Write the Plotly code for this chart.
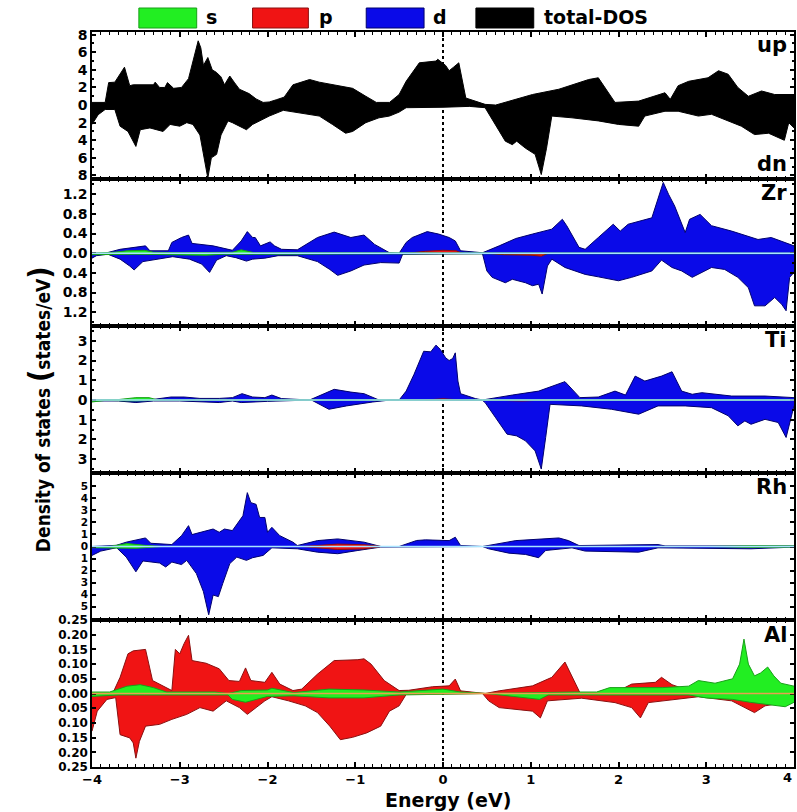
import plotly.graph_objects as go
from plotly.subplots import make_subplots

# ---------------- data: (energy eV, DOS) pairs; spin-down stored as negative ----------------
tot_up = [(-4.0, 0.3), (-3.85, 0.3), (-3.81, 2.55), (-3.74, 2.6), (-3.63, 4.3), (-3.57, 2.2),
          (-3.53, 2.3), (-3.30, 2.3), (-3.28, 2.6), (-3.23, 2.0), (-3.17, 2.0), (-3.14, 2.55),
          (-3.07, 1.9), (-2.98, 2.0), (-2.90, 3.0), (-2.79, 7.3), (-2.76, 6.5), (-2.73, 4.5),
          (-2.68, 5.4), (-2.63, 4.0), (-2.58, 3.7), (-2.53, 3.2), (-2.49, 2.3), (-2.43, 3.3),
          (-2.38, 2.6), (-2.32, 1.8), (-2.21, 1.3), (-2.13, 0.7), (-2.05, 0.3), (-1.98, 0.35),
          (-1.90, 0.6), (-1.81, 0.9), (-1.71, 2.3), (-1.52, 2.9), (-1.41, 2.6), (-1.18, 2.2),
          (-1.03, 1.9), (-0.88, 1.0), (-0.76, 0.3), (-0.61, 0.3), (-0.50, 1.2), (-0.42, 2.7),
          (-0.27, 4.8), (-0.08, 5.0), (-0.06, 5.2), (0.03, 4.5), (0.07, 3.9), (0.12, 4.3),
          (0.18, 4.8), (0.26, 0.8), (0.37, 0.45), (0.48, 0.08), (0.60, 0.0), (0.75, 0.45),
          (1.02, 1.2), (1.32, 1.8), (1.66, 2.9), (1.77, 3.1), (1.96, 0.3), (2.23, 0.45),
          (2.42, 1.0), (2.53, 1.4), (2.59, 0.65), (2.68, 2.2), (2.80, 2.7), (3.02, 3.1),
          (3.14, 3.9), (3.25, 3.5), (3.36, 2.0), (3.48, 1.0), (3.63, 1.6), (3.78, 1.2), (4.0, 1.2)]
tot_dn = [(-4.0, -2.2), (-3.93, -1.1), (-3.85, -0.5), (-3.74, -0.5), (-3.68, -2.4), (-3.59, -3.0),
          (-3.50, -4.7), (-3.45, -2.8), (-3.34, -2.6), (-3.25, -2.8), (-3.19, -3.0), (-3.11, -2.2),
          (-3.0, -2.4), (-2.92, -2.0), (-2.85, -2.2), (-2.77, -3.4), (-2.73, -5.6), (-2.68, -8.3),
          (-2.64, -6.0), (-2.58, -5.6), (-2.53, -3.4), (-2.45, -1.8), (-2.40, -2.0), (-2.24, -2.8),
          (-2.17, -2.2), (-2.05, -1.6), (-1.98, -1.25), (-1.82, -0.6), (-1.63, -0.9), (-1.41, -1.25),
          (-1.26, -2.2), (-1.11, -3.2), (-1.03, -3.0), (-0.88, -2.0), (-0.73, -1.45), (-0.61, -1.25),
          (-0.50, -0.8), (-0.42, -0.3), (0.0, -0.25), (0.30, -0.15), (0.48, -0.3), (0.60, -2.2),
          (0.71, -4.1), (0.79, -4.5), (0.84, -4.1), (0.94, -4.9), (1.05, -5.6), (1.12, -7.9),
          (1.18, -4.9), (1.24, -1.25), (1.47, -1.45), (1.77, -1.8), (2.00, -2.2), (2.23, -2.4),
          (2.30, -1.25), (2.53, -0.7), (2.68, -0.7), (2.91, -1.25), (3.06, -1.05), (3.40, -2.4),
          (3.55, -3.35), (3.71, -3.2), (3.89, -4.0), (3.94, -2.0), (4.0, -2.6)]

zr_d_up = [(-4.0, 0.0), (-3.85, 0.0), (-3.68, 0.08), (-3.50, 0.12), (-3.39, 0.15), (-3.34, 0.05),
           (-3.13, 0.05), (-3.09, 0.22), (-2.98, 0.32), (-2.90, 0.37), (-2.86, 0.2), (-2.62, 0.15),
           (-2.40, 0.06), (-2.30, 0.25), (-2.23, 0.44), (-2.17, 0.32), (-2.14, 0.32), (-2.08, 0.15),
           (-2.03, 0.18), (-1.97, 0.23), (-1.92, 0.15), (-1.84, 0.08), (-1.66, 0.07), (-1.43, 0.32),
           (-1.24, 0.43), (-1.05, 0.32), (-0.90, 0.37), (-0.78, 0.18), (-0.61, 0.01), (-0.50, 0.0),
           (-0.42, 0.22), (-0.35, 0.32), (-0.18, 0.44), (-0.05, 0.39), (0.07, 0.32), (0.14, 0.25),
           (0.20, 0.05), (0.45, 0.01), (0.64, 0.15), (0.83, 0.30), (1.02, 0.39), (1.24, 0.49),
           (1.36, 0.69), (1.41, 0.56), (1.55, 0.12), (1.62, 0.08), (1.77, 0.32), (1.85, 0.45),
           (1.94, 0.59), (2.02, 0.45), (2.11, 0.59), (2.38, 0.72), (2.45, 1.13), (2.51, 1.44),
           (2.57, 1.2), (2.64, 0.96), (2.76, 0.42), (2.81, 0.69), (2.93, 0.79), (3.06, 0.56),
           (3.29, 0.45), (3.59, 0.28), (3.74, 0.32), (4.0, 0.15)]
zr_d_dn = [(-4.0, -0.1), (-3.95, -0.05), (-3.82, -0.02), (-3.68, -0.12), (-3.57, -0.26), (-3.52, -0.34),
           (-3.42, -0.17), (-3.27, -0.12), (-3.08, -0.07), (-2.89, -0.12), (-2.75, -0.22), (-2.66, -0.39),
           (-2.58, -0.14), (-2.47, -0.05), (-2.36, -0.09), (-2.24, -0.16), (-2.17, -0.12), (-2.03, -0.1),
           (-1.88, -0.05), (-1.66, -0.05), (-1.43, -0.17), (-1.29, -0.33), (-1.20, -0.45), (-1.05, -0.36),
           (-0.90, -0.24), (-0.71, -0.19), (-0.50, -0.2), (-0.46, -0.02), (0.45, -0.01), (0.50, -0.36),
           (0.56, -0.49), (0.71, -0.6), (0.79, -0.53), (0.94, -0.6), (1.02, -0.66), (1.09, -0.63),
           (1.13, -0.83), (1.19, -0.26), (1.24, -0.12), (1.39, -0.29), (1.62, -0.43), (1.77, -0.48),
           (2.00, -0.56), (2.15, -0.49), (2.38, -0.36), (2.49, -0.14), (2.61, -0.29), (2.72, -0.36),
           (2.84, -0.49), (3.06, -0.29), (3.21, -0.33), (3.36, -0.49), (3.48, -0.7), (3.55, -1.07),
           (3.67, -1.07), (3.78, -0.9), (3.86, -1.04), (3.91, -1.17), (3.95, -0.49), (4.0, -0.39)]
zr_p_up = [(-0.40, 0.0), (-0.20, 0.04), (0.0, 0.06), (0.15, 0.05), (0.22, 0.0)]
zr_p_dn = [(0.50, 0.0), (0.70, -0.03), (1.00, -0.04), (1.12, -0.06), (1.20, 0.0)]
zr_s_up = [(-4.0, 0.0), (-3.75, 0.02), (-3.6, 0.05), (-3.4, 0.06), (-3.3, 0.02), (-3.0, 0.01),
           (-2.4, 0.02), (-2.3, 0.07), (-2.15, 0.01), (-1.5, 0.01), (0.0, 0.0), (4.0, 0.0)]
zr_s_dn = [(-4.0, -0.03), (-3.5, -0.02), (-2.7, -0.04), (-2.5, -0.02), (-2.2, -0.02), (0.0, -0.01), (4.0, -0.01)]

ti_d_up = [(-4.0, 0.0), (-3.6, 0.03), (-3.3, 0.03), (-3.1, 0.15), (-2.95, 0.15), (-2.77, 0.08),
           (-2.55, 0.08), (-2.40, 0.12), (-2.29, 0.32), (-2.17, 0.15), (-2.03, 0.12), (-1.95, 0.25),
           (-1.84, 0.07), (-1.52, 0.0), (-1.41, 0.2), (-1.24, 0.54), (-1.05, 0.4), (-0.90, 0.32),
           (-0.73, 0.0), (-0.50, 0.0), (-0.42, 0.45), (-0.33, 1.3), (-0.22, 2.47), (-0.14, 2.44),
           (-0.08, 2.78), (-0.03, 2.56), (0.03, 2.14), (0.07, 2.0), (0.11, 2.1), (0.14, 2.39),
           (0.17, 0.96), (0.20, 0.32), (0.37, 0.07), (0.45, 0.0), (0.79, 0.25), (1.09, 0.45),
           (1.39, 0.93), (1.56, 0.12), (1.77, 0.15), (1.96, 0.45), (2.08, 0.25), (2.19, 1.21),
           (2.30, 0.96), (2.49, 1.21), (2.61, 1.43), (2.72, 0.45), (2.84, 0.29), (2.95, 0.37),
           (3.29, 0.2), (3.67, 0.2), (4.0, 0.12)]
ti_d_dn = [(-4.0, -0.05), (-3.7, -0.05), (-3.5, -0.13), (-3.3, -0.05), (-3.0, -0.05), (-2.55, -0.13),
           (-2.4, -0.05), (-2.3, -0.13), (-2.0, -0.07), (-1.5, 0.0), (-1.3, -0.47), (-1.1, -0.3),
           (-0.8, -0.1), (-0.6, 0.0), (0.45, -0.02), (0.48, -0.13), (0.60, -0.9), (0.73, -1.73),
           (0.84, -1.82), (0.94, -2.07), (1.05, -2.58), (1.12, -3.5), (1.17, -1.9), (1.22, -0.22),
           (1.58, -0.3), (1.92, -0.47), (2.23, -0.72), (2.45, -0.3), (2.76, -0.3), (3.06, -0.39),
           (3.25, -0.8), (3.36, -1.31), (3.44, -1.06), (3.51, -1.23), (3.67, -0.98), (3.82, -1.14),
           (3.91, -1.9), (3.97, -0.72), (4.0, -0.3)]
ti_p_up = [(-0.2, 0.0), (0.0, 0.06), (0.2, 0.0)]
ti_p_dn = [(0.5, 0.0), (0.9, -0.05), (1.2, 0.0)]
ti_s_up = [(-4.0, 0.0), (-3.7, 0.02), (-3.5, 0.12), (-3.35, 0.12), (-3.25, 0.0), (4.0, 0.0)]
ti_s_dn = [(-4.0, -0.1), (-3.85, -0.02), (-3.5, -0.05), (-3.2, 0.0), (4.0, 0.0)]

rh_d_up = [(-4.0, 0.0), (-3.72, 0.1), (-3.61, 0.36), (-3.39, 0.71), (-3.33, 0.27), (-3.09, 0.16),
           (-2.98, 0.9), (-2.90, 1.73), (-2.86, 0.99), (-2.62, 1.45), (-2.55, 1.18), (-2.49, 1.45),
           (-2.40, 1.32), (-2.28, 2.55), (-2.23, 4.47), (-2.19, 3.64), (-2.13, 3.5), (-2.09, 2.41),
           (-2.03, 2.41), (-2.00, 1.18), (-1.95, 1.59), (-1.86, 0.9), (-1.71, 0.36), (-1.66, 0.08),
           (-1.43, 0.49), (-1.20, 0.63), (-0.90, 0.36), (-0.71, 0.0), (-0.50, 0.0), (-0.30, 0.5),
           (-0.20, 0.55), (0.07, 0.49), (0.14, 0.77), (0.20, 0.08), (0.45, 0.0), (0.64, 0.27),
           (0.83, 0.49), (1.32, 0.71), (1.43, 0.49), (1.55, 0.08), (2.45, 0.16), (2.53, 0.05), (4.0, 0.05)]
rh_d_dn = [(-4.0, -0.74), (-3.9, -0.38), (-3.72, -0.1), (-3.61, -0.88), (-3.50, -2.1), (-3.42, -1.2),
           (-3.23, -1.37), (-3.16, -1.7), (-3.09, -1.29), (-2.98, -1.5), (-2.92, -1.15), (-2.81, -2.25),
           (-2.73, -3.75), (-2.67, -5.67), (-2.62, -4.03), (-2.56, -4.16), (-2.51, -3.07), (-2.43, -1.42),
           (-2.35, -0.88), (-2.24, -1.15), (-2.17, -0.93), (-2.05, -0.74), (-1.95, -0.11), (-1.66, -0.19),
           (-1.43, -0.47), (-1.20, -0.6), (-0.97, -0.33), (-0.71, -0.05), (0.45, 0.0), (0.52, -0.19),
           (0.75, -0.55), (0.94, -0.66), (1.09, -0.93), (1.17, -0.33), (1.47, -0.11), (1.62, -0.38),
           (2.23, -0.47), (2.45, -0.11), (3.51, -0.19), (4.0, -0.05)]
rh_p_up = [(-1.6, 0.0), (-1.2, 0.2), (-0.9, 0.15), (-0.7, 0.0)]
rh_p_dn = [(-1.6, 0.0), (-1.2, -0.25), (-0.9, -0.2), (-0.7, 0.0)]
rh_s_up = [(-3.8, 0.0), (-3.6, 0.25), (-3.4, 0.1), (-3.2, 0.0), (3.0, 0.0), (3.5, 0.06), (4.0, 0.05)]
rh_s_dn = [(-4.0, -0.1), (-3.5, -0.15), (-3.2, 0.0), (3.0, 0.0), (3.5, -0.08), (4.0, -0.05)]

al_p_up = [(-4.0, 0.0), (-3.76, 0.003), (-3.68, 0.055), (-3.59, 0.135), (-3.53, 0.145), (-3.39, 0.15),
           (-3.31, 0.044), (-3.09, 0.01), (-3.05, 0.15), (-3.00, 0.135), (-2.95, 0.17), (-2.90, 0.198),
           (-2.86, 0.112), (-2.70, 0.103), (-2.55, 0.084), (-2.44, 0.044), (-2.32, 0.041), (-2.25, 0.087),
           (-2.19, 0.044), (-2.03, 0.038), (-1.95, 0.072), (-1.86, 0.032), (-1.71, 0.01), (-1.61, 0.015),
           (-1.43, 0.066), (-1.24, 0.112), (-0.97, 0.115), (-0.90, 0.118), (-0.82, 0.1), (-0.67, 0.044),
           (-0.50, 0.01), (-0.39, 0.011), (-0.12, 0.023), (0.07, 0.026), (0.14, 0.049), (0.20, 0.009),
           (0.48, 0.0), (0.64, 0.009), (1.02, 0.026), (1.24, 0.055), (1.39, 0.107), (1.56, 0.003),
           (1.96, 0.003), (2.15, 0.032), (2.42, 0.038), (2.49, 0.055), (2.61, 0.03), (2.80, 0.01),
           (3.29, 0.005), (4.0, 0.0)]
al_p_dn = [(-4.0, -0.128), (-3.94, -0.06), (-3.83, -0.02), (-3.73, -0.014), (-3.68, -0.14), (-3.57, -0.151),
           (-3.53, -0.168), (-3.50, -0.22), (-3.46, -0.163), (-3.39, -0.111), (-3.23, -0.105), (-3.09, -0.088),
           (-2.92, -0.071), (-2.77, -0.048), (-2.62, -0.06), (-2.47, -0.025), (-2.32, -0.048), (-2.23, -0.071),
           (-2.13, -0.048), (-2.03, -0.025), (-1.95, -0.011), (-1.76, -0.025), (-1.57, -0.042), (-1.43, -0.065),
           (-1.29, -0.111), (-1.17, -0.157), (-1.03, -0.149), (-0.87, -0.134), (-0.71, -0.111), (-0.61, -0.06),
           (-0.50, -0.042), (-0.42, -0.003), (0.45, 0.0), (0.52, -0.025), (0.64, -0.048), (0.83, -0.054),
           (1.02, -0.06), (1.11, -0.083), (1.19, -0.025), (1.58, -0.016), (1.96, -0.031), (2.15, -0.048),
           (2.25, -0.083), (2.34, -0.031), (2.91, -0.011), (3.29, -0.025), (3.55, -0.065), (3.67, -0.042),
           (4.0, -0.025)]
al_s_up = [(-4.0, 0.005), (-3.8, 0.005), (-3.6, 0.025), (-3.45, 0.03), (-3.3, 0.02), (-3.15, 0.005),
           (-2.6, 0.005), (-2.45, 0.0), (-2.3, 0.01), (-2.0, 0.012), (-1.95, 0.018), (-1.7, 0.003),
           (-1.3, 0.015), (-0.9, 0.012), (-0.5, 0.005), (0.0, 0.015), (0.2, 0.005), (0.5, 0.0),
           (1.5, 0.005), (1.75, 0.005), (1.9, 0.02), (2.5, 0.02), (2.8, 0.025), (2.91, 0.044),
           (3.1, 0.035), (3.3, 0.05), (3.38, 0.1), (3.43, 0.185), (3.48, 0.1), (3.55, 0.06),
           (3.62, 0.07), (3.7, 0.09), (3.77, 0.06), (3.85, 0.035), (4.0, 0.025)]
al_s_dn = [(-4.0, -0.01), (-3.7, -0.005), (-3.4, -0.005), (-2.45, -0.005), (-2.4, -0.02), (-2.25, -0.03),
           (-2.0, -0.01), (-1.7, -0.008), (-1.3, -0.015), (-0.9, -0.015), (-0.5, -0.005), (0.5, 0.0),
           (0.8, -0.01), (1.1, -0.02), (1.2, -0.005), (2.0, -0.005), (2.8, -0.005), (3.0, -0.015),
           (3.3, -0.02), (3.5, -0.03), (3.8, -0.04), (3.9, -0.045), (4.0, -0.03)]

legend_labels = ["s", "p", "d", "total-DOS"]
panel_labels = ["up", "dn", "Zr", "Ti", "Rh", "Al"]
x_ticks = [-4, -3, -2, -1, 0, 1, 2, 3, 4]
y_ticks = [
    [-8, -6, -4, -2, 0, 2, 4, 6, 8],
    [-1.2, -0.8, -0.4, 0.0, 0.4, 0.8, 1.2],
    [-3, -2, -1, 0, 1, 2, 3],
    [-5, -4, -3, -2, -1, 0, 1, 2, 3, 4, 5],
    [-0.25, -0.20, -0.15, -0.10, -0.05, 0.0, 0.05, 0.10, 0.15, 0.20, 0.25],
]
y_fmt = ["{:.0f}", "{:.1f}", "{:.0f}", "{:.0f}", "{:.2f}"]

# ---------------- styling ----------------
COL = {"s": ("#22ee22", "#18a018"), "p": ("#f01414", "#8a1010"),
       "d": ("#0a0ae8", "#00006e"), "tot": ("#000000", "#000000")}
FONT = "DejaVu Sans"

panels = [
    [("tot", tot_up), ("tot", tot_dn)],
    [("d", zr_d_up), ("d", zr_d_dn), ("p", zr_p_up), ("p", zr_p_dn), ("s", zr_s_up), ("s", zr_s_dn)],
    [("d", ti_d_up), ("d", ti_d_dn), ("p", ti_p_up), ("p", ti_p_dn), ("s", ti_s_up), ("s", ti_s_dn)],
    [("d", rh_d_up), ("d", rh_d_dn), ("p", rh_p_up), ("p", rh_p_dn), ("s", rh_s_up), ("s", rh_s_dn)],
    [("p", al_p_up), ("p", al_p_dn), ("s", al_s_up), ("s", al_s_dn)],
]
y_ranges = [[-8.4, 8.3], [-1.48, 1.51], [-3.7, 3.75], [-6.1, 6.1], [-0.25, 0.25]]
y_minor = [1, 0.2, 0.5, None, None]
y_font = [14, 14, 14, 10.5, 12]

fig = make_subplots(rows=5, cols=1, shared_xaxes=True, vertical_spacing=0)

for r, series in enumerate(panels, start=1):
    for kind, pairs in series:
        xs = [p[0] for p in pairs]
        ys = [p[1] for p in pairs]
        fc, lc = COL[kind]
        fig.add_trace(go.Scatter(x=xs, y=ys, mode="lines", fill="tozeroy", fillcolor=fc,
                                 line=dict(color=lc, width=1), showlegend=False,
                                 hoverinfo="skip"), row=r, col=1)
    if r > 1:
        zc = "#e8a050" if r == 5 else "#a8e4ff"
        fig.add_hline(y=0, row=r, col=1, line=dict(color=zc, width=1.5), layer="above")

axis_common = dict(showline=True, linecolor="black", linewidth=1.5, mirror="ticks",
                   ticks="inside", tickcolor="black", tickwidth=1.5, showgrid=False,
                   zeroline=False)

for r in range(1, 6):
    fig.update_xaxes(range=[-4, 4], tickvals=x_ticks, ticklen=5,
                     minor=dict(ticks="inside", dtick=0.1, ticklen=3, tickcolor="black", tickwidth=1),
                     tickfont=dict(family=FONT, size=13, color="black", weight="bold"),
                     row=r, col=1, **axis_common)
    tv = y_ticks[r - 1]
    ydict = dict(range=y_ranges[r - 1], tickvals=tv,
                 ticktext=[y_fmt[r - 1].format(abs(v)) for v in tv], ticklen=4,
                 tickfont=dict(family=FONT, size=y_font[r - 1], color="black", weight="bold"))
    if y_minor[r - 1]:
        ydict["minor"] = dict(ticks="inside", dtick=y_minor[r - 1], ticklen=2, tickcolor="black")
    fig.update_yaxes(row=r, col=1, **ydict, **axis_common)

# Fermi level
fig.add_shape(type="line", x0=0, x1=0, xref="x5", y0=0, y1=1, yref="paper",
              line=dict(color="black", width=2, dash="dot"), layer="below")

L, R, T, B = 92, 1, 32, 45
W, H = 797, 812
pw, ph = W - L - R, H - T - B


def px(x):
    return (x - L) / pw


def py(y):
    return (H - B - y) / ph


# last x tick label sits at the page edge
fig.add_annotation(xref="paper", yref="paper", x=1.0, y=py(777), text=str(x_ticks[-1]),
                   showarrow=False, xanchor="right", yanchor="middle",
                   font=dict(family=FONT, size=13, color="black", weight="bold"))

# legend swatches
sw = [("s", 139, 197, 204), ("p", 253, 309, 318), ("d", 367, 425, 432), ("tot", 477, 535, 543)]
for (kind, x0, x1, xt), lab in zip(sw, legend_labels):
    fig.add_shape(type="rect", xref="paper", yref="paper", x0=px(x0), x1=px(x1),
                  y0=py(28), y1=py(8), fillcolor=COL[kind][0],
                  line=dict(color=COL[kind][1], width=1))
    fig.add_annotation(xref="paper", yref="paper", x=px(xt), y=py(17), text=lab, showarrow=False,
                       xanchor="left", yanchor="middle",
                       font=dict(family=FONT, size=19, color="black", weight="bold"))

# panel labels
for lab, yy in zip(panel_labels, [45, 164, 193, 340, 487, 635]):
    fig.add_annotation(xref="paper", yref="paper", x=px(791), y=py(yy), text=lab, showarrow=False,
                       xanchor="right", yanchor="middle",
                       font=dict(family=FONT, size=21, color="black", weight="bold"))

# axis titles
fig.add_annotation(xref="paper", yref="paper", x=px(449), y=py(800), text="Energy (eV)",
                   showarrow=False, xanchor="center", yanchor="middle",
                   font=dict(family=FONT, size=19, color="black", weight="bold"))
fig.add_annotation(xref="paper", yref="paper", x=px(39), y=py(409), textangle=-90,
                   text="Density of states <span style='font-size:30px'>(</span>states/eV<span style='font-size:30px'>)</span>",
                   showarrow=False, xanchor="center", yanchor="middle",
                   font=dict(family="DejaVu Sans Condensed, DejaVu Sans", size=19, color="black",
                             weight="bold"))

fig.update_layout(width=W, height=H, margin=dict(l=L, r=R, t=T, b=B),
                  plot_bgcolor="white", paper_bgcolor="white", showlegend=False)

fig.write_html("out.html")
